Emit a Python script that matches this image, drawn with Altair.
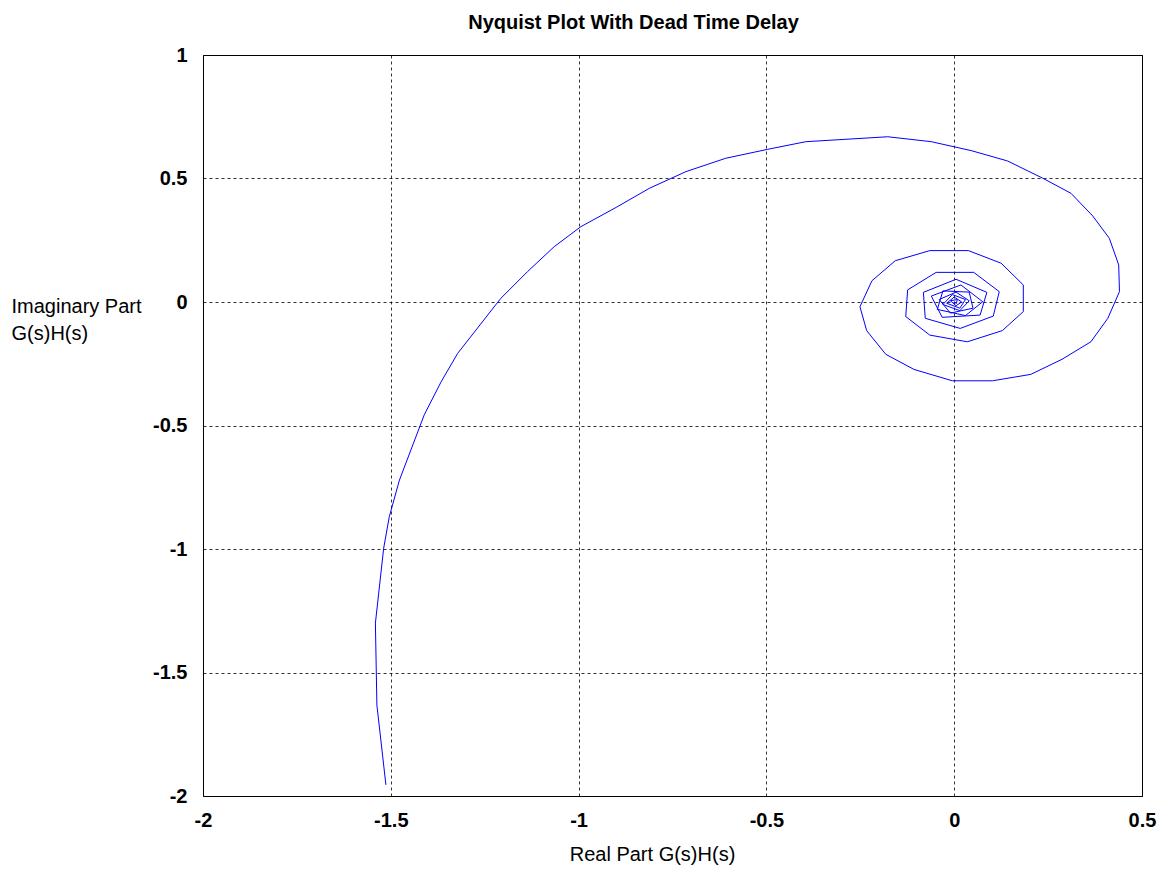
import altair as alt
import pandas as pd

real_part = [-1.513, -1.537, -1.541, -1.519, -1.504, -1.477, -1.411, -1.366, -1.322, -1.207,
             -1.136, -1.065, -0.994, -0.900, -0.812, -0.714, -0.608, -0.497, -0.395, -0.177,
             -0.061, 0.045, 0.142, 0.236, 0.311, 0.369, 0.413, 0.438, 0.440, 0.409,
             0.364, 0.287, 0.204, 0.102, -0.005, -0.107, -0.182, -0.233, -0.251, -0.219,
             -0.157, -0.065, 0.038, 0.125, 0.184, 0.184, 0.128, 0.035, -0.065, -0.129,
             -0.124, -0.048, 0.052, 0.120, 0.104, 0.016, -0.077, -0.082, 0.005, 0.087,
             0.069, -0.032, -0.061, 0.018, 0.076, 0.030, -0.045, -0.030, 0.040, 0.050,
             -0.010, -0.040, 0.005, 0.040, 0.015, -0.030, -0.005, 0.030, 0.015, -0.020,
             0.000, 0.020, 0.005, -0.010, 0.008, 0.006, 0.000]
imag_part = [-1.955, -1.632, -1.300, -0.997, -0.869, -0.721, -0.457, -0.323, -0.208, 0.015,
             0.123, 0.224, 0.305, 0.383, 0.460, 0.528, 0.582, 0.618, 0.649, 0.669,
             0.649, 0.613, 0.571, 0.501, 0.440, 0.348, 0.258, 0.150, 0.042, -0.066,
             -0.161, -0.232, -0.293, -0.319, -0.319, -0.273, -0.212, -0.116, -0.019, 0.086,
             0.167, 0.208, 0.208, 0.157, 0.069, -0.039, -0.116, -0.161, -0.134, -0.059,
             0.049, 0.120, 0.120, 0.042, -0.057, -0.107, -0.066, 0.039, 0.092, 0.039,
             -0.053, -0.062, 0.024, 0.069, 0.001, -0.055, -0.030, 0.045, 0.040, -0.025,
             -0.045, 0.010, 0.040, 0.005, -0.035, -0.010, 0.030, 0.010, -0.025, -0.005,
             0.020, 0.000, -0.015, 0.005, 0.010, -0.006, 0.000]
x_ticks = [-2, -1.5, -1, -0.5, 0, 0.5]
y_ticks = [-2, -1.5, -1, -0.5, 0, 0.5, 1]

df = pd.DataFrame({"i": list(range(len(real_part))), "re": real_part, "im": imag_part})

FONT = "Liberation Sans"

chart = alt.Chart(df).mark_line(color="#0000ff", strokeWidth=1, clip=True).encode(
    x=alt.X("re:Q", scale=alt.Scale(domain=[-2, 0.5], nice=False, zero=False),
            axis=alt.Axis(values=x_ticks, labelExpr="'' + datum.value", title="Real Part G(s)H(s)",
                          grid=True, gridColor="#000", gridDash=[3, 3], gridOpacity=0.8,
                          ticks=False, domain=False, labelPadding=14, labelFlush=False,
                          labelFont=FONT, labelFontSize=20, labelFontWeight="bold", labelColor="#000",
                          titleFont=FONT, titleFontSize=20, titleFontWeight="normal", titleColor="#000",
                          titleX=449, titleY=64, titleBaseline="alphabetic", titleAnchor="start",
                          titleAlign="center")),
    y=alt.Y("im:Q", scale=alt.Scale(domain=[-2, 1], nice=False, zero=False),
            axis=alt.Axis(values=y_ticks, labelExpr="'' + datum.value",
                          title=["Imaginary Part", "G(s)H(s)"],
                          grid=True, gridColor="#000", gridDash=[3, 3], gridOpacity=0.8,
                          ticks=False, domain=False, labelPadding=16, labelFlush=False,
                          labelFont=FONT, labelFontSize=20, labelFontWeight="bold", labelColor="#000",
                          titleFont=FONT, titleFontSize=20, titleFontWeight="normal", titleColor="#000",
                          titleAngle=0, titleAlign="left", titleBaseline="alphabetic",
                          titleX=-192, titleY=257, titleLineHeight=27)),
    order="i:Q",
).properties(
    width=939, height=741,
    title=alt.Title("Nyquist Plot With Dead Time Delay", font=FONT, fontSize=20, fontWeight="bold",
                    color="#000", anchor="middle", dx=-39, offset=12),
    autosize=alt.AutoSizeParams(type="none"),
    padding={"left": 195, "top": 47, "right": 16, "bottom": 70},
).configure_view(stroke="#000", strokeWidth=1)

chart.save("out.html", embed_options={"renderer": "svg", "actions": False})
